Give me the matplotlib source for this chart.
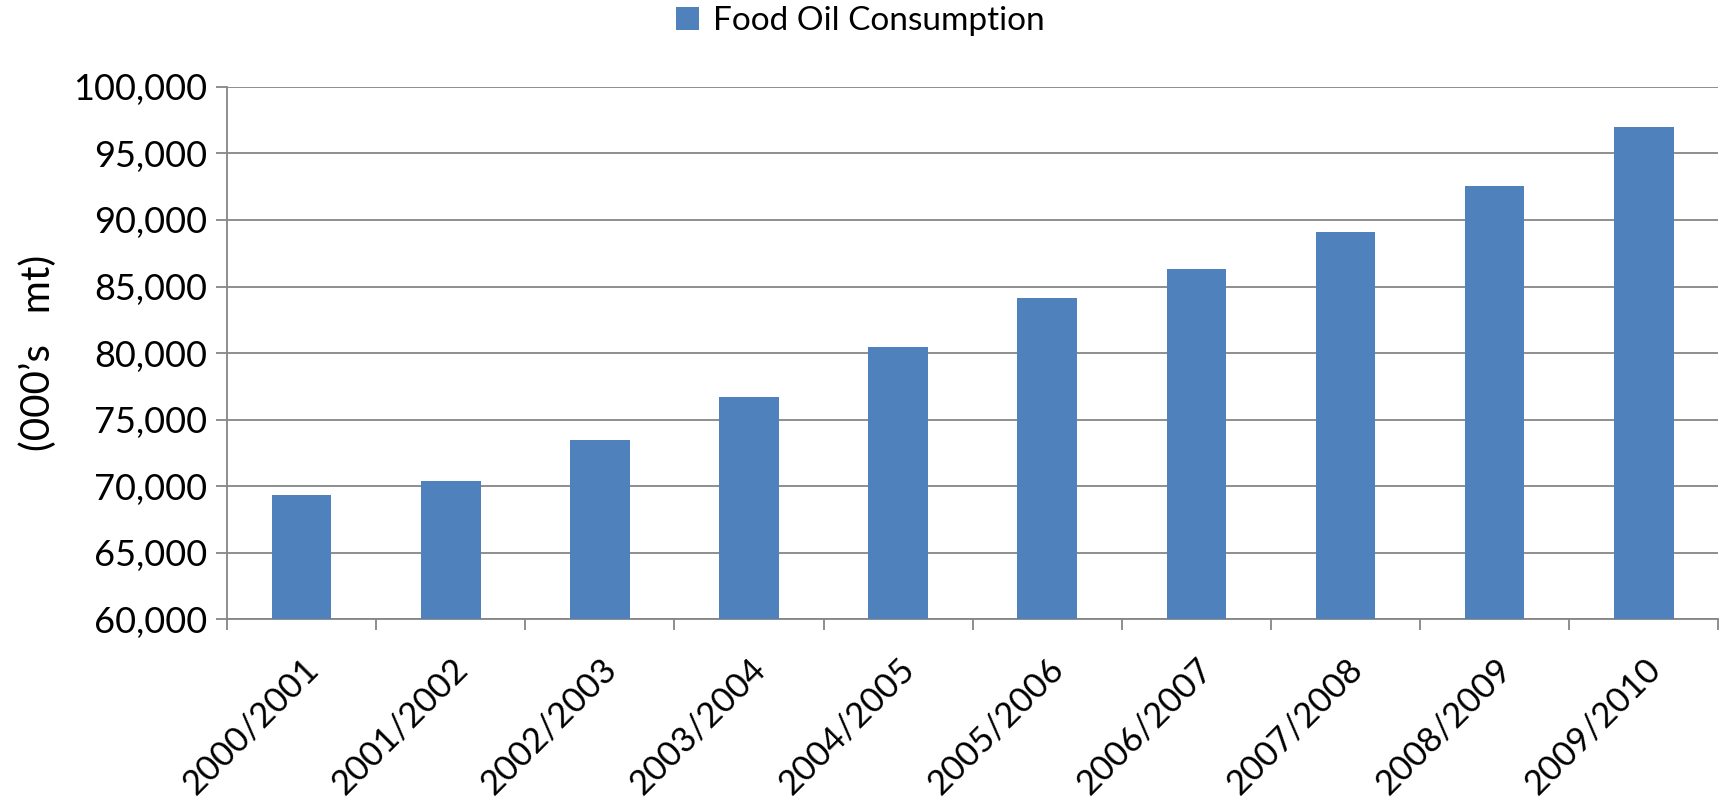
import matplotlib.pyplot as plt
import numpy as np

# 市场年度与食用油消费量 (000's mt)
years = ['2000/2001', '2001/2002', '2002/2003', '2003/2004', '2004/2005',
         '2005/2006', '2006/2007', '2007/2008', '2008/2009', '2009/2010']
consumption = [69340, 70400, 73490, 76730, 80490, 84170, 86340, 89130, 92560, 96990]
y_ticks = [60000, 65000, 70000, 75000, 80000, 85000, 90000, 95000, 100000]

plt.rcParams['font.family'] = ['Lato', 'DejaVu Sans']
grid_color = '#868686'

fig = plt.figure(figsize=(17.2, 7.97), dpi=100)
ax = fig.add_axes([0.132, 0.223, 0.867, 0.668])

x = np.arange(len(years))
ax.bar(x, consumption, width=0.4, color='#4F81BD', label='Food Oil Consumption',
       bottom=0, zorder=3)

ax.set_ylim(60000, 100000)
ax.set_xlim(-0.5, len(years) - 0.5)
ax.set_yticks(y_ticks)
ax.set_yticklabels([f'{v:,}' for v in y_ticks], fontsize=26)
ax.yaxis.grid(True, color=grid_color, linewidth=1.3, zorder=0)

# 类别标签在中心，刻度线在类别边界
ax.set_xticks(x)
ax.set_xticklabels(years, rotation=45, ha='right', rotation_mode='anchor', fontsize=25)
ax.set_xticks(np.arange(-0.5, len(years)), minor=True)
ax.tick_params(axis='x', which='major', length=0, pad=24)
ax.tick_params(axis='x', which='minor', length=8, width=1.3, color=grid_color)
ax.tick_params(axis='y', length=8, width=1.3, color=grid_color, pad=6)

ax.set_ylabel('(000\u2019s   mt)', fontsize=29, labelpad=12)

for side in ['top', 'right']:
    ax.spines[side].set_visible(False)
for side in ['left', 'bottom']:
    ax.spines[side].set_color(grid_color)
    ax.spines[side].set_linewidth(1.3)

fig.legend(loc='upper center', bbox_to_anchor=(0.5, 1.03), frameon=False,
           fontsize=24, handlelength=0.7, handleheight=0.7, handletextpad=0.4)

fig.savefig('out.png', dpi=100)
